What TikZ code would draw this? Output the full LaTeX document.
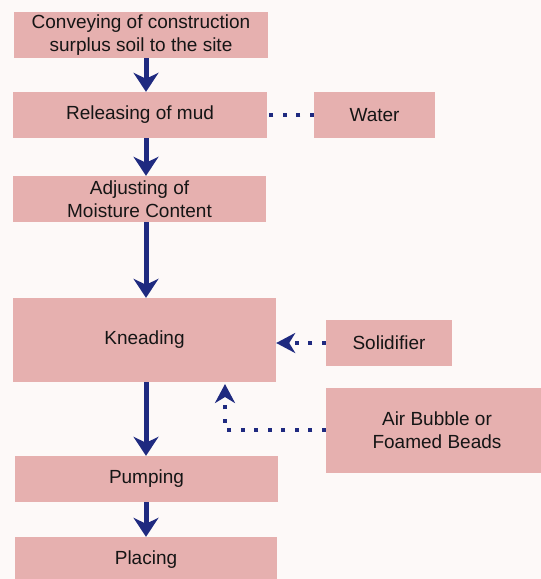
\documentclass[tikz,border=0pt]{standalone}
\usepackage{fontspec}
\setmainfont{Liberation Sans}
\usetikzlibrary{arrows.meta}
\definecolor{bg}{HTML}{FDF9F8}
\definecolor{boxfill}{HTML}{E6B0AF}
\definecolor{navy}{HTML}{1F2A80}
\definecolor{txt}{HTML}{151515}
\begin{document}
\begin{tikzpicture}[x=1pt,y=1pt,
  stage/.style={rectangle, fill=boxfill, draw=none, inner sep=0pt, align=center,
    text=txt, font=\fontsize{19}{23}\selectfont},
  flow/.style={draw=navy, line width=5pt, -{Stealth[length=19pt,width=25pt,inset=6pt]}},
  dots/.style={draw=navy, line width=4pt, dash pattern=on 4pt off 9.5pt},
  dotarrow/.style={dots, -{Stealth[length=19pt,width=20pt,inset=6pt,sep=0pt]}}]
\fill[bg] (0,0) rectangle (541,-579);
\useasboundingbox (0,0) rectangle (541,-579);
\node[stage, minimum width=254pt, minimum height=46pt] (convey) at (141,-35) {Conveying of construction\\surplus soil to the site};
\node[stage, minimum width=254pt, minimum height=46pt] (mud) at (140,-115) {Releasing of mud};
\node[stage, minimum width=121pt, minimum height=46pt] (water) at (374.5,-115) {Water};
\node[stage, minimum width=253pt, minimum height=46pt] (moist) at (139.5,-199) {Adjusting of\\Moisture Content};
\node[stage, minimum width=263pt, minimum height=84pt] (knead) at (144.5,-340) {Kneading};
\node[stage, minimum width=126pt, minimum height=46pt] (solid) at (389,-343) {Solidifier};
\node[stage, minimum width=222pt, minimum height=85pt] (air) at (437,-430.5) {Air Bubble or\\Foamed Beads};
\node[stage, minimum width=263pt, minimum height=46pt] (pump) at (146.5,-479) {Pumping};
\node[stage, minimum width=262pt, minimum height=46pt] (place) at (146,-560) {Placing};
\coordinate (spine) at (146,0);
\coordinate (bend) at (225,-430);
\coordinate (airtip) at (225,-384);
\draw[flow] (convey.south -| spine) -- (mud.north -| spine);
\draw[flow] (mud.south -| spine) -- (moist.north -| spine);
\draw[flow] (moist.south -| spine) -- (knead.north -| spine);
\draw[flow] (knead.south -| spine) -- (pump.north -| spine);
\draw[flow] (pump.south -| spine) -- (place.north -| spine);
\draw[dots] (water.west) -- (mud.east);
\draw[dotarrow] (solid.west) -- (knead.east |- solid.west);
\draw[dotarrow] (air.west |- bend) -- (bend) -- (airtip);
\end{tikzpicture}
\end{document}
